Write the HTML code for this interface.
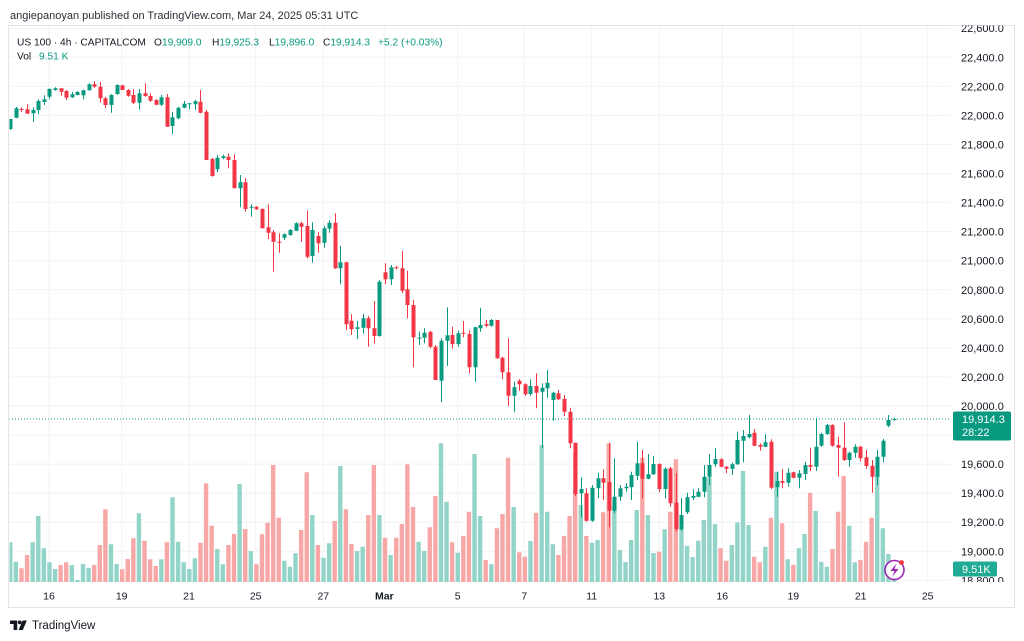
<!DOCTYPE html>
<html><head><meta charset="utf-8">
<style>
html,body{margin:0;padding:0;background:#fff;}
svg{display:block;font-family:"Liberation Sans",Arial,sans-serif;}
</style></head><body>
<svg width="1024" height="641" viewBox="0 0 1024 641" xmlns="http://www.w3.org/2000/svg">
<defs>
<clipPath id="plot"><rect x="9.5" y="25.5" width="941.5" height="556.5"/></clipPath>
<clipPath id="ax"><rect x="951" y="25.5" width="63" height="556.5"/></clipPath>
</defs>
<rect width="1024" height="641" fill="#fff"/>
<text x="10" y="19" font-size="11" fill="#2a2e39">angiepanoyan published on TradingView.com, Mar 24, 2025 05:31 UTC</text>

<!-- grid -->
<g stroke="#f1f2f4" stroke-width="1" fill="none">
<path d="M9 28.2H951M9 57.3H951M9 86.3H951M9 115.4H951M9 144.5H951M9 173.5H951M9 202.6H951M9 231.6H951M9 260.7H951M9 289.8H951M9 318.8H951M9 347.9H951M9 376.9H951M9 406H951M9 435.1H951M9 464.1H951M9 493.2H951M9 522.2H951M9 551.3H951M9 580.4H951"/>
<path d="M49 25V582M121.7 25V582M189 25V582M255.7 25V582M323.3 25V582M384.3 25V582M457.7 25V582M524.3 25V582M591.7 25V582M659.3 25V582M722.3 25V582M793.3 25V582M860.7 25V582M927.7 25V582"/>
</g>

<!-- frame -->
<rect x="8.5" y="25.5" width="1006" height="582" fill="none" stroke="#e4e4e6" stroke-width="1"/>

<g clip-path="url(#plot)">
<path id="vu" fill="#93d4c9" d=""/>
<path id="vd" fill="#f7a8a6" d=""/>
<line x1="9" y1="419" x2="951" y2="419" stroke="#089981" stroke-width="1" stroke-dasharray="1 2"/>
<path id="wu" stroke="#089981" stroke-width="1" fill="none" d=""/>
<path id="wd" stroke="#f23645" stroke-width="1" fill="none" d=""/>
<path id="bu" fill="#089981" d=""/>
<path id="bd" fill="#f23645" d=""/>
</g>

<!-- legend -->
<g font-size="10.2">
<text x="17" y="45.5" fill="#131722">US 100 · 4h · CAPITALCOM</text>
<text x="154" y="45.5" fill="#131722">O<tspan fill="#089981">19,909.0</tspan></text>
<text x="212" y="45.5" fill="#131722">H<tspan fill="#089981">19,925.3</tspan></text>
<text x="269" y="45.5" fill="#131722">L<tspan fill="#089981">19,896.0</tspan></text>
<text x="323" y="45.5" fill="#131722">C<tspan fill="#089981">19,914.3</tspan></text>
<text x="378" y="45.5" fill="#089981">+5.2 (+0.03%)</text>
<text x="17" y="59.5" fill="#131722">Vol</text>
<text x="39" y="59.5" fill="#089981">9.51 K</text>
</g>

<!-- price axis -->
<g clip-path="url(#ax)" font-size="11" fill="#131722">
<text x="961" y="32.2">22,600.0</text>
<text x="961" y="61.3">22,400.0</text>
<text x="961" y="90.3">22,200.0</text>
<text x="961" y="119.4">22,000.0</text>
<text x="961" y="148.5">21,800.0</text>
<text x="961" y="177.5">21,600.0</text>
<text x="961" y="206.6">21,400.0</text>
<text x="961" y="235.6">21,200.0</text>
<text x="961" y="264.7">21,000.0</text>
<text x="961" y="293.8">20,800.0</text>
<text x="961" y="322.8">20,600.0</text>
<text x="961" y="351.9">20,400.0</text>
<text x="961" y="380.9">20,200.0</text>
<text x="961" y="410">20,000.0</text>
<text x="961" y="439.1">19,800.0</text>
<text x="961" y="468.1">19,600.0</text>
<text x="961" y="497.2">19,400.0</text>
<text x="961" y="526.2">19,200.0</text>
<text x="961" y="555.3">19,000.0</text>
<text x="961" y="584.4">18,800.0</text>
</g>

<!-- price label -->
<rect x="953" y="411.5" width="58" height="29" rx="2" fill="#089981"/>
<text x="962" y="423" font-size="11" fill="#fff">19,914.3</text>
<text x="962" y="436" font-size="11" fill="#fff">28:22</text>
<!-- volume label -->
<rect x="953" y="561.5" width="44" height="15" rx="2" fill="#22ab94"/>
<text x="962" y="573" font-size="11" fill="#fff">9.51K</text>

<!-- lightning icon -->
<circle cx="894.5" cy="570" r="9.5" fill="#fff" stroke="#9c27b0" stroke-width="1.6"/>
<path d="M896.5 563.5 L890.5 571 H894.5 L892.5 576.5 L898.5 569 H894.5 Z" fill="#9c27b0"/>
<circle cx="901.5" cy="562.5" r="2.4" fill="#f23645"/>

<!-- time axis -->
<g font-size="10.5" fill="#131722" text-anchor="middle">
<text x="49" y="599.5">16</text>
<text x="121.7" y="599.5">19</text>
<text x="189" y="599.5">21</text>
<text x="255.7" y="599.5">25</text>
<text x="323.3" y="599.5">27</text>
<text x="384.3" y="599.5" font-weight="bold">Mar</text>
<text x="457.7" y="599.5">5</text>
<text x="524.3" y="599.5">7</text>
<text x="591.7" y="599.5">11</text>
<text x="659.3" y="599.5">13</text>
<text x="722.3" y="599.5">16</text>
<text x="793.3" y="599.5">19</text>
<text x="860.7" y="599.5">21</text>
<text x="927.7" y="599.5">25</text>
</g>

<!-- TradingView logo -->
<g fill="#131722">
<path d="M10 620.5h7.2v9.5h-3.6v-6h-3.6z"/>
<circle cx="19.7" cy="622.4" r="1.9"/>
<path d="M22.6 620.5h4.2l-4 9.5h-4.2z"/>
</g>
<text x="32" y="629" font-size="11.5" fill="#131722">TradingView</text>
</svg>

<script>
var D=[
[1,119,129,119,130,542.3],[1,108.3,117.7,106.7,118.3,561.7],[0,109,110,107.3,111.7,568.3],[0,109.3,113.7,104.3,113.7,555],[1,110,113.3,107.3,121.7,542.3],
[1,101,110,99.3,114.3,516],[1,99.3,102,95.3,105,548.3],[1,89,96.7,88.3,99.3,562.3],[1,88.3,90,87.3,90.7,569],[0,88.3,91.7,88.3,95.7,565],
[0,91,97.7,90,100,562.3],[1,94.3,97.3,92,98,565],[1,92,95,91,95.3,580],[1,90.3,95.3,89.7,99.3,564],[1,84.3,90.3,83.3,90.7,567.7],
[0,84.3,86.7,81,87.7,565],[0,86.7,98.3,81.7,102.7,545],[0,98.3,105,96.7,108.3,509.3],[1,95,105,94.3,112.7,544.3],[1,85,94,84.3,95,564],
[0,85.3,90,85,90,569.3],[0,90,95.7,89,96.7,559],[0,95,102.7,89.3,104.3,538.3],[1,93.3,102.7,89,109.3,513.3],[0,93.3,96,83.3,96.7,540.7],
[0,96,100.7,93.3,101.7,559.3],[0,100,104.7,99.3,105.3,566],[1,97.3,104.7,94.7,106,559.3],[0,97.3,126.7,94,126.7,542.3],[1,117.3,126,111.7,134.3,497.3],
[1,107.7,118.3,106.7,119.3,541.7],[1,103.7,107.7,101,108.3,562.3],[1,103.3,104.3,103,109.3,569],[1,101.3,104.3,100,110,558.3],[0,101.7,112.7,90,113.3,542.7],
[0,111.7,160,110,160,483.3],[0,159,176,157.7,176.7,525.7],[1,157.7,169.3,155,172.3,549],[1,156.3,158,154.7,159.3,564.3],[0,156.7,160,153.3,168.3,545],
[0,160,188.3,154.3,188.3,534],[1,182.3,188.3,175,207.3,484],[0,182.3,209,178.3,211.7,529],[1,206.7,207.3,204.3,216.7,551],[0,206.7,209.3,206,210,564.3],
[0,209,228.3,208.3,228.3,534.3],[0,227.3,232.7,204.3,239.3,522.7],[0,232.3,241.7,230,271.7,465],[0,241.7,242.3,233.3,252.7,517.7],[1,234.3,237.7,233.3,240,560.7],
[1,230,235,229,235.7,566.7],[1,223.3,230.7,222.3,231,553.3],[0,223.3,226.7,221.7,241.7,530],[0,226,256.7,210.7,258.3,472.3],[1,230,256,222.3,262.7,515],
[0,236,243.3,232.3,252.7,545],[1,228.3,242.7,226,247.7,557.7],[1,222.7,228.7,220,232.7,543.3],[0,222.7,268.3,213.3,269,521],[1,262.3,268.3,246,284.3,466],
[0,262.3,324.3,261.7,330,509.3],[0,320.7,329.3,314.3,335,544],[1,327.3,329,320.7,339,551],[1,318.3,327.7,314,333.3,546.7],[0,318.3,328.3,316,346.7,515],
[0,328.3,336,301,343.3,465],[1,281.7,336,280,336.7,515],[0,272.3,279.3,263.3,284,537.7],[1,267.3,279.3,265,285,555],[0,267.3,268,265.7,269.3,537.7],
[0,268.3,290.7,251,293.3,524],[0,289.3,305,270.7,318.3,464.3],[0,305,337.3,300,367.3,507],[1,337.7,338.7,331.7,345,541.7],[1,332.7,337.7,328.3,343.3,551],
[0,331.7,346.7,331,348.3,527.3],[0,346.7,380,345,380,496],[1,340.7,380.7,338.3,402.3,443.3],[1,335.3,340.7,307.3,366,501.7],[0,335,344,326.7,348.7,542.3],
[1,333.3,344,330.7,346.7,552.7],[0,332.7,333.3,321,337.3,536],[0,334,367.3,330,373.3,511.7],[1,327.3,367.3,326.7,381.7,454],[1,325,328.3,307.7,331.7,516],
[0,324,325.7,320,327.3,560],[1,320,325.7,319,326.7,564.3],[0,320,358.3,320,359,528.3],[0,357.7,372.3,356.7,379.3,514],[0,372.3,395.7,338.3,406,457.7],
[1,387.3,395.7,381.7,412.3,507],[0,380.7,384.3,379.3,390.7,552.3],[0,384.3,394.3,383.3,395.7,556.7],[1,386,394,379.3,395.7,541],[0,386,392.7,373.3,408.3,512.7],
[1,387.7,391.7,383.3,448,445],[1,382.7,388.3,370,397.7,511.7],[1,392.7,400,391.7,420.7,544.3],[0,393.3,399.3,390,400,555],[0,399,411.7,395,416,536],
[0,411.7,443.3,407.7,448.3,516],[0,442.7,494,442.7,496,452.7],[1,489,493.3,477.3,517.3,505],[0,493.3,520.7,488.3,521.7,536],[1,487.7,520.7,485,521.7,542.7],
[1,478.3,488.3,472.7,498.3,540],[0,478.3,482.7,469.3,500,512.3],[0,482,510.7,442.7,527.3,443.3],[1,496.7,510.7,458.3,513.3,506],[1,488.3,496.7,485,500.7,550],
[1,486.7,488.3,483.3,491.7,562],[1,475,487.3,471.7,500,540],[1,463.3,475.7,441.7,480,510],[0,463.3,478.7,450,498.3,457.7],[1,474.3,478.7,454,479.3,515],
[1,464,474.3,456,475,553],[0,464,489,463.3,492.3,551.7],[1,468.7,489,467.3,498.3,529.3],[0,468.3,503.3,466.7,506.7,511.7],[0,502.7,529.3,473.3,531.7,459.3],
[1,515,529.3,498.3,530.7,529.3],[1,497.3,512.3,492.7,514,545.7],[1,496,497.7,489.3,500,557],[1,491.7,496.7,488.3,497.3,540.7],[1,476.7,491.7,465,497.3,520],
[1,465,476.7,454.3,485,477.3],[1,459,464.3,448.3,466.7,524],[0,459.3,466.7,458.3,467.3,548.3],[0,466.7,468.7,466,473.3,560.7],[1,464.3,468.7,462.7,475,545],
[1,440,464.3,431.7,465,522.3],[1,436,440.7,430,462.3,471],[1,434,437.3,415,438.3,525],[0,432.7,445.7,429,446,556.7],[0,445,446.7,443.3,450.7,562.3],
[1,442.3,446.7,434.3,447.3,546.7],[0,441.7,487.7,439.3,489,517.7],[1,481,487.3,471.7,496.7,471.7],[0,481,482.7,469,488.3,523.3],[1,472.7,482.7,468.3,486.7,559.3],
[0,472.3,477.7,471.7,478.3,565],[1,473.3,477.7,470,488.3,548.3],[1,465,474,461.7,480,534],[0,465,466.7,447.7,471,492.7],[1,446.7,466.7,417.7,471,511],
[1,434,445.7,432.7,446.7,561.7],[1,425,434,424,435,566.7],[0,425,445.7,424.3,446.7,549],[0,445,447.7,436.7,476.7,511.7],[0,447.7,460,422.3,461,476],
[1,452.7,460,451.7,466.7,525.7],[1,446.7,452.7,444.3,457.7,562.3],[0,446.7,458.3,445.7,461.7,560],[0,457.3,466,450,469,541.7],[0,465.7,476.7,460,492.7,517.7],
[1,456.7,476.7,450,485,476],[1,440.7,456.7,439,462.3,528.3],[1,420,425.7,415,427.3,554],[1,419,420,417.7,420.7,579]
];
var p={vu:"",vd:"",wu:"",wd:"",bu:"",bd:""};
for(var i=0;i<D.length;i++){
  var d=D[i],x=10.3+i*5.593,u=d[0]==1,s=u?"u":"d";
  var bb=Math.max(d[2],d[1]+1);
  var xc=Math.round(x)+0.5;
  p["v"+s]+="M"+(x-2.2).toFixed(2)+" "+d[5]+"H"+(x+2.2).toFixed(2)+"V582H"+(x-2.2).toFixed(2)+"Z";
  p["w"+s]+="M"+xc+" "+d[3]+"V"+d[4];
  p["b"+s]+="M"+(xc-2).toFixed(2)+" "+d[1]+"H"+(xc+2).toFixed(2)+"V"+bb+"H"+(xc-2).toFixed(2)+"Z";
}
for(var k in p){document.getElementById(k).setAttribute("d",p[k]);}
</script>
</body></html>
